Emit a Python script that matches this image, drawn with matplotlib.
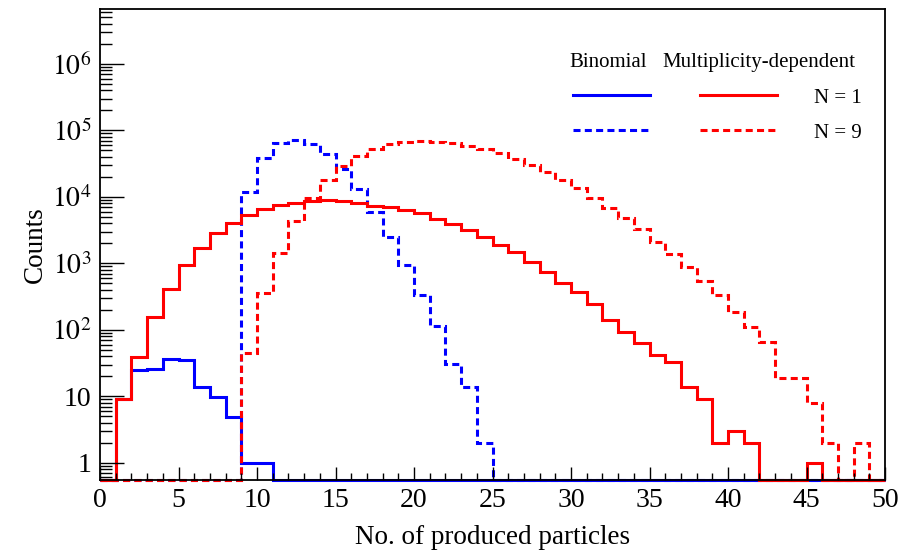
import numpy as np
import matplotlib
matplotlib.use("Agg")
import matplotlib.pyplot as plt
from matplotlib.lines import Line2D
from matplotlib.ticker import MultipleLocator, LogLocator, FixedLocator, FuncFormatter, NullFormatter

plt.rcParams['font.family'] = ['Liberation Serif', 'DejaVu Serif']
plt.rcParams['mathtext.fontset'] = 'stix'

# bin edges 0..50, unit width
edges = np.arange(0, 51)

# Binomial, N = 1 (blue solid)
binom_n1 = [0, 9, 24.8, 25.7, 36.4, 35.2, 13.6, 9.8, 4.9, 1, 1] + [0] * 39

# Binomial, N = 9 (blue dashed)
binom_n9 = ([0] * 9 +
            [12000, 38000, 64000, 71800, 62500, 43800, 26000, 13200, 5980, 2520,
             945, 328, 114, 31, 13.9, 2] +
            [0] * 25)

# Multiplicity-dependent, N = 1 (red solid)
mult_n1 = [0, 9, 39, 155, 407, 945, 1690, 2830, 3990, 5330,
           6500, 7550, 8180, 8670, 8800, 8550, 8010, 7380, 6970, 6240,
           5630, 4650, 3870, 3180, 2470, 1890, 1460, 1060, 750, 500,
           374, 244, 140, 93, 63, 42, 33, 13.6, 9, 2,
           3, 2, 0, 0, 0, 1, 0, 0, 0, 0]

# Multiplicity-dependent, N = 9 (red dashed)
mult_n9 = ([0] * 9 +
           [44, 354, 1440, 4380, 9730, 17900, 29200, 41300, 52000, 61700,
            67600, 69300, 67600, 64100, 59000, 52600, 45300, 37200, 30200, 23400,
            17900, 13500, 9730, 6880, 4860, 3290, 2120, 1380, 890, 548,
            334, 187, 111, 66, 18.6, 18.6, 7.8, 2, 0, 2, 0])

y_decades = [1, 10, 1e2, 1e3, 1e4, 1e5, 1e6]

YMIN, YMAX = 0.55, 6.6e6


def floor_zero(vals):
    # ROOT draws empty bins on the bottom of the frame
    v = np.array(vals, dtype=float)
    v[v <= 0] = YMIN
    return v


fig = plt.figure(figsize=(9, 5.5), dpi=100)
ax = fig.add_axes([100 / 900, 1 - 480 / 550, 785 / 900, 470.7 / 550])

lw = 2.2
dash = (0, (2.3, 1.4))
ax.stairs(floor_zero(binom_n1), edges, baseline=None, color='blue', lw=lw, clip_on=False)
ax.stairs(floor_zero(binom_n9), edges, baseline=None, color='blue', lw=lw, linestyle=dash, clip_on=False)
ax.stairs(floor_zero(mult_n1), edges, baseline=None, color='red', lw=lw, clip_on=False)
ax.stairs(floor_zero(mult_n9), edges, baseline=None, color='red', lw=lw, linestyle=dash, clip_on=False)

ax.set_yscale('log')
ax.set_xlim(0, 50)
ax.set_ylim(YMIN, YMAX)

ax.xaxis.set_major_locator(MultipleLocator(5))
ax.xaxis.set_minor_locator(MultipleLocator(1))
ax.yaxis.set_major_locator(FixedLocator(y_decades))
ax.yaxis.set_minor_locator(LogLocator(base=10, subs=np.arange(2, 10), numticks=20))
ax.yaxis.set_minor_formatter(NullFormatter())


def log_label(v, pos):
    e = int(round(np.log10(v)))
    if e == 0:
        return '1'
    if e == 1:
        return '10'
    return r'$10^{%d}$' % e


ax.yaxis.set_major_formatter(FuncFormatter(log_label))

ax.tick_params(axis='both', which='both', direction='in', labelsize=20, colors='black')
ax.tick_params(axis='x', which='major', length=9.5, width=1, pad=6)
ax.tick_params(axis='x', which='minor', length=5, width=1)
ax.tick_params(axis='y', which='major', length=17, width=1, pad=6)
ax.tick_params(axis='y', which='minor', length=8.5, width=1)
for s in ax.spines.values():
    s.set_linewidth(1.3)

ax.set_xlabel('No. of produced particles', fontsize=19.5)
ax.xaxis.set_label_coords(0.5, -0.095)
ax.set_ylabel('Counts', fontsize=19.5)
ax.yaxis.set_label_coords(-0.066, 0.5)

# legend block
handles = [Line2D([], [], color='blue', lw=lw),
           Line2D([], [], color='blue', lw=lw, linestyle=dash),
           Line2D([], [], color='red', lw=lw),
           Line2D([], [], color='red', lw=lw, linestyle=dash)]
labels = ['', '', 'N = 1', 'N = 9']
ax.legend(handles, labels, ncol=2, frameon=False, fontsize=15,
          handlelength=3.7, handletextpad=1.78, columnspacing=0.62,
          labelspacing=0.74, borderpad=0, borderaxespad=0,
          loc='upper left', bbox_to_anchor=(573 / 900, 1 - 88 / 550),
          bbox_transform=fig.transFigure)
fig.text(608.5 / 900, 1 - 62 / 550, 'Binomial', ha='center', va='center', fontsize=15)
fig.text(758.5 / 900, 1 - 62 / 550, 'Multiplicity-dependent', ha='center', va='center', fontsize=15)

fig.savefig('out.png', dpi=100)
